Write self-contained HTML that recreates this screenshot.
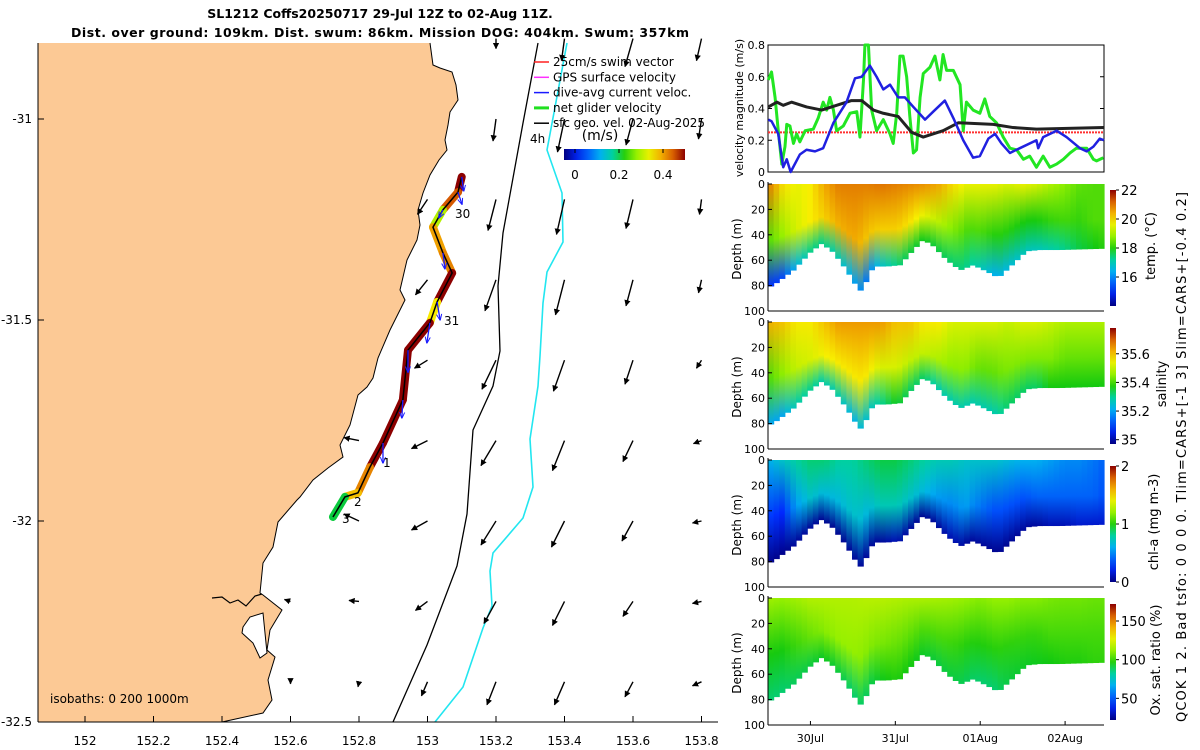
<!DOCTYPE html>
<html><head><meta charset="utf-8"><style>
body{margin:0;background:#fff}
svg{display:block;font-family:"DejaVu Sans","Liberation Sans",sans-serif}
</style></head><body>
<svg id="fig" width="1200" height="750" viewBox="0 0 1200 750">
<defs>
<marker id="ah" viewBox="0 0 10 10" refX="9" refY="5" markerWidth="4.5" markerHeight="4.5" orient="auto"><path d="M0,0L10,5L0,10z" fill="#000"/></marker>
<marker id="ahb" viewBox="0 0 10 10" refX="9" refY="5" markerWidth="5" markerHeight="5" orient="auto"><path d="M0,1L10,5L0,9" fill="none" stroke="#1a1aff" stroke-width="1.5"/></marker>
</defs>
<text x="380" y="18" text-anchor="middle" font-size="12.5" font-weight="bold">SL1212 Coffs20250717 29-Jul 12Z to 02-Aug 11Z.</text>
<text x="380" y="37" text-anchor="middle" font-size="12.5" font-weight="bold" textLength="618">Dist. over ground: 109km. Dist. swum: 86km. Mission DOG: 404km. Swum: 357km</text>
<g id="map"></g>
<g id="right"></g>
</svg>
<script>
// ---------- map data ----------
const mapLonTicks=[152,152.2,152.4,152.6,152.8,153,153.2,153.4,153.6,153.8];
const mapLatTicks=[-31,-31.5,-32,-32.5];
const trackLon=[153.100,153.089,153.045,153.016,153.045,153.072,153.028,153.007,152.943,152.928,152.870,152.832,152.797,152.759,152.724];
const trackLat=[-31.144,-31.182,-31.226,-31.269,-31.333,-31.383,-31.455,-31.507,-31.575,-31.699,-31.806,-31.866,-31.930,-31.940,-31.990];
const trackSpeed=[0.5,0.45,0.3,0.4,0.42,0.5,0.35,0.5,0.5,0.5,0.5,0.42,0.38,0.2,0.12];
const qLon=[153.2,153.4,153.6,153.8, 153.2,153.4,153.6,153.8, 153.0,153.2,153.4,153.6,153.8, 153.0,153.2,153.4,153.6,153.8, 153.0,153.2,153.4,153.6,153.8, 152.8,153.0,153.2,153.4,153.6,153.8, 152.8,153.0,153.2,153.4,153.6,153.8, 152.6,152.8,153.0,153.2,153.4,153.6,153.8, 152.6,152.8,153.0,153.2,153.4,153.6,153.8];
const qLat=[-30.8,-30.8,-30.8,-30.8, -31,-31,-31,-31, -31.2,-31.2,-31.2,-31.2,-31.2, -31.4,-31.4,-31.4,-31.4,-31.4, -31.6,-31.6,-31.6,-31.6,-31.6, -31.8,-31.8,-31.8,-31.8,-31.8,-31.8, -32,-32,-32,-32,-32,-32, -32.2,-32.2,-32.2,-32.2,-32.2,-32.2,-32.2, -32.4,-32.4,-32.4,-32.4,-32.4,-32.4,-32.4];
const qU=[0,-0.03,-0.08,-0.05, -0.03,-0.07,-0.07,-0.03, -0.10,-0.08,-0.08,-0.07,-0.02, -0.12,-0.11,-0.09,-0.07,-0.03, -0.13,-0.14,-0.11,-0.08,-0.05, -0.15,-0.16,-0.15,-0.12,-0.10,-0.08, -0.15,-0.16,-0.15,-0.13,-0.11,-0.09, -0.06,-0.10,-0.12,-0.12,-0.12,-0.10,-0.09, 0,-0.01,-0.06,-0.09,-0.10,-0.08,-0.09];
const qV=[-0.10,-0.22,-0.28,-0.22, -0.22,-0.33,-0.26,-0.20, -0.15,-0.31,-0.35,-0.29,-0.15, -0.15,-0.31,-0.35,-0.26,-0.13, -0.08,-0.29,-0.31,-0.24,-0.08, 0.03,-0.08,-0.25,-0.30,-0.21,-0.03, 0.07,-0.09,-0.24,-0.26,-0.20,-0.02, 0.02,0.01,-0.09,-0.22,-0.24,-0.15,-0.02, -0.02,-0.05,-0.14,-0.23,-0.23,-0.15,-0.04];
// ---------- velocity panel data (hours since 29-Jul 12Z) ----------
const gH=[0.1,1.0,2.0,2.9,3.9,4.8,5.3,6.2,7.2,8.1,9.0,10.5,12.8,14.2,15.6,16.6,17.5,18.5,19.4,21.3,23.2,25.1,26.0,27.0,27.4,28.4,29.3,30.7,32.6,34.5,35.4,36.4,37.3,38.2,39.2,40.1,41.1,42.0,43.0,43.9,45.8,47.2,48.6,49.5,50.5,52.4,54.3,55.2,56.1,58.0,59.9,61.3,62.7,64.6,66.5,68.4,70.3,72.2,74.0,75.9,77.8,79.7,81.6,83.5,85.4,87.2,90.1,92.0,92.9,94.8];
const gV=[0.58,0.63,0.47,0.26,0.05,0.16,0.30,0.29,0.18,0.24,0.19,0.26,0.27,0.34,0.44,0.39,0.47,0.39,0.26,0.29,0.37,0.38,0.22,0.58,0.80,0.80,0.39,0.26,0.33,0.24,0.18,0.37,0.73,0.73,0.60,0.35,0.12,0.14,0.47,0.62,0.66,0.73,0.58,0.74,0.64,0.64,0.55,0.26,0.44,0.39,0.37,0.46,0.35,0.31,0.22,0.15,0.14,0.08,0.10,0.03,0.10,0.03,0.05,0.08,0.12,0.15,0.15,0.08,0.07,0.09];
const bH=[0.1,1.0,2.9,4.3,5.3,6.4,9.0,10.9,13.3,15.6,18.5,22.2,24.6,26.5,28.8,30.7,32.6,34.5,36.8,38.7,41.1,44.4,46.7,50.0,52.4,55.2,58.0,59.9,62.3,64.2,66.0,68.4,71.2,75.9,76.4,77.8,81.6,84.4,88.2,90.1,92.0,93.8,95.0];
const bV=[0.33,0.32,0.24,0.03,0.08,0.0,0.11,0.14,0.13,0.15,0.31,0.44,0.59,0.60,0.67,0.60,0.52,0.55,0.47,0.47,0.41,0.33,0.38,0.45,0.34,0.20,0.09,0.10,0.21,0.24,0.18,0.12,0.15,0.20,0.15,0.22,0.26,0.22,0.15,0.13,0.16,0.21,0.20];
const kH=[0.1,2.5,4.3,6.7,10.9,15.2,19.4,23.6,26.5,29.8,32.6,36.8,40.6,43.9,49.5,53.8,63.7,69.3,75.9,95.0];
const kV=[0.41,0.44,0.42,0.44,0.41,0.39,0.42,0.45,0.45,0.39,0.37,0.35,0.25,0.22,0.26,0.31,0.30,0.28,0.27,0.28];
const swimRef=[0.25];
const velTicks=[0,0.2,0.4,0.6,0.8];
// ---------- section data ----------
const knotH=[0,4,8,12,16,20,24,28,32,36,40,44,48,52,56,60,64,68,72,76,80,84,88,92,95];
const botH=[0,2.4,7.2,11.9,15.2,18.5,22.2,25.1,26.5,27.9,29.8,33.5,37.3,41.1,43.9,46.7,50.5,54.3,58.0,61.8,65.1,69.3,73.1,76.9,82.5,95];
const botD=[82,78,68,54,47,54,68,81,85,76,65,65,64,52,44,49,60,68,64,69,74,63,53,52,52,51];
const tSurf=[21,20,19.6,19.8,20.5,20.9,20.9,20.9,21,20.9,20.8,20.7,20.5,20,19.6,19.6,19.6,19.4,19.6,19.4,19,18.7,18.4,18.3,18.3];
const tMid=[18.3,18.8,19.4,19.8,20.1,20.4,20.5,20.2,20.1,20.1,19.9,19.6,19.2,18.7,18.3,18.3,18,18,17.9,17.9,18.1,18.2,18.1,18.3,18.3];
const tBot=[15,15.3,16.5,17.3,17.3,17,16.3,15.8,16.8,17.3,17.6,17.8,17.6,17.4,17.3,17,16.4,16.6,16.9,16.9,17.1,17.3,17.6,17.8,18];
const sSurf=[35.62,35.6,35.56,35.56,35.6,35.64,35.64,35.64,35.64,35.6,35.6,35.56,35.56,35.52,35.52,35.52,35.52,35.5,35.52,35.52,35.5,35.48,35.48,35.48,35.48];
const sMid=[35.4,35.45,35.5,35.52,35.55,35.56,35.56,35.56,35.52,35.52,35.5,35.5,35.48,35.45,35.45,35.42,35.42,35.44,35.44,35.44,35.44,35.42,35.42,35.42,35.42];
const sBot=[35.2,35.2,35.28,35.3,35.28,35.28,35.22,35.25,35.3,35.35,35.32,35.32,35.28,35.28,35.28,35.28,35.28,35.32,35.32,35.32,35.36,35.36,35.36,35.36,35.36];
const cSurf=[0.6,0.7,0.8,0.85,0.85,0.8,0.8,0.85,0.9,0.9,0.85,0.8,0.75,0.75,0.7,0.7,0.7,0.65,0.6,0.6,0.55,0.5,0.5,0.45,0.4];
const cMid=[0.3,0.25,0.55,0.7,0.65,0.65,0.7,0.65,0.75,0.75,0.7,0.65,0.55,0.5,0.55,0.45,0.35,0.35,0.35,0.4,0.4,0.4,0.4,0.4,0.35];
const cBot=[0.02,0.02,0.05,0.05,0.03,0.03,0.05,0.05,0.05,0.1,0.05,0.03,0.05,0.1,0.05,0.05,0.03,0.03,0.05,0.05,0.1,0.1,0.15,0.15,0.15];
const oSurf=[114,112,114,117,117,117,117,118,118,117,116,116,115,114,112,110,112,112,110,110,108,107,107,106,106];
const oMid=[95,95,100,106,110,112,112,110,108,106,104,102,102,100,97,96,97,98,99,99,101,101,101,101,101];
const oBot=[86,86,88,90,93,90,86,88,93,96,94,92,90,90,88,86,86,90,92,93,94,96,96,98,98];
const depthTicks=[0,20,40,60,80,100];
const dayTicks=[12,36,60,84];
const dayLabels=["30Jul","31Jul","01Aug","02Aug"];

const NS="http://www.w3.org/2000/svg";
function E(tag,attrs,parent,txt){const e=document.createElementNS(NS,tag);for(const k in attrs){if(attrs[k]!==undefined)e.setAttribute(k,attrs[k]);}if(txt!==undefined)e.textContent=txt;parent.appendChild(e);return e;}
const stops=[[0,[0,0,130]],[0.125,[0,40,255]],[0.3,[0,176,240]],[0.4,[0,208,160]],[0.48,[16,200,16]],[0.6,[150,240,0]],[0.72,[248,240,0]],[0.82,[240,160,0]],[0.92,[210,80,0]],[1,[140,0,0]]];
function cmap(t){t=Math.max(0,Math.min(1,t));for(let i=1;i<stops.length;i++){if(t<=stops[i][0]){const a=stops[i-1],b=stops[i],f=(t-a[0])/(b[0]-a[0]);const c=a[1].map((v,j)=>Math.round(v+(b[1][j]-v)*f));return `rgb(${c[0]},${c[1]},${c[2]})`;}}return 'rgb(140,0,0)';}
function interp(xs,ys,x){if(x<=xs[0])return ys[0];for(let i=1;i<xs.length;i++){if(x<=xs[i]){const f=(x-xs[i-1])/(xs[i]-xs[i-1]);return ys[i-1]+(ys[i]-ys[i-1])*f;}}return ys[ys.length-1];}
const defs=document.querySelector('defs');

// ---------- map ----------
const map=document.getElementById('map');
const mx=lon=>85+(lon-152)*342.5, my=lat=>119+(-31-lat)*402;
const coast=[[430,43],[433,65],[440,68],[452,72],[456,85],[458,100],[450,112],[448,125],[445,140],[447,150],[439,160],[430,175],[423,193],[418,210],[420,225],[417,240],[407,260],[400,290],[405,300],[400,310],[390,330],[378,358],[373,378],[367,387],[358,395],[350,425],[340,445],[343,457],[328,468],[313,480],[300,497],[297,500],[278,522],[273,547],[263,563],[260,593],[263,595],[282,610],[270,630],[267,650],[275,657],[268,680],[272,700],[263,713],[222,722],[38,722],[38,43]];
const land=E('path',{d:'M'+coast.map(p=>p.join(',')).join('L')+'Z',fill:'#fcc995',stroke:'none'},map);

const cl=E('polyline',{points:coast.slice(0,45).map(p=>p.join(',')).join(' '),fill:'none',stroke:'#000','stroke-width':1},map);

const lake=E('path',{d:'M243,627L250,617L263,613L265,633L267,653L260,658L253,643L242,633Z',fill:'#fff',stroke:'#000','stroke-width':1},map);

E('path',{d:'M212,598L222,597L230,603L238,600L246,606L255,596L262,594',fill:'none',stroke:'#000','stroke-width':1.2},map);
const iso200=[[538,43],[523,123],[503,233],[498,286],[500,351],[493,386],[473,430],[467,514],[457,566],[427,645],[393,722]];
const iso1000=[[567,43],[547,150],[562,193],[563,242],[547,272],[543,303],[540,356],[538,386],[530,439],[533,487],[523,518],[493,553],[490,571],[492,606],[483,628],[463,687],[435,722]];
const i2=E('polyline',{points:iso200.map(p=>p.join(',')).join(' '),fill:'none',stroke:'#000','stroke-width':1.3},map);

const i1=E('polyline',{points:iso1000.map(p=>p.join(',')).join(' '),fill:'none',stroke:'#22e6f0','stroke-width':1.6},map);

for(let i=0;i<qLon.length;i++){
  const x=mx(qLon[i]),y=my(qLat[i]);
  const l=E('line',{x1:x,y1:y,x2:x+qU[i]*100,y2:y-qV[i]*100,stroke:'#000','stroke-width':1.4,'marker-end':'url(#ah)'},map);
  
  
}
for(let i=0;i<trackLon.length-1;i++){
  const s=E('line',{x1:mx(trackLon[i]),y1:my(trackLat[i]),x2:mx(trackLon[i+1]),y2:my(trackLat[i+1]),stroke:cmap((trackSpeed[i]+0.05)/0.55),'stroke-width':8,'stroke-linecap':'round'},map);
  
  
}
const tl=E('polyline',{points:trackLon.map((v,i)=>mx(v)+','+my(trackLat[i])).join(' '),fill:'none',stroke:'#000','stroke-width':1.5},map);

[[0,2,14],[2,-4,8],[4,2,16],[6,3,18],[7,-3,20],[8,0,22],[9,-1,18],[10,0,20],[1,4,12]].forEach(a=>{
  const x=mx(trackLon[a[0]]),y=my(trackLat[a[0]]);
  const l=E('line',{x1:x,y1:y,x2:x+a[1],y2:y+a[2],stroke:'#1a1aff','stroke-width':1.3,'marker-end':'url(#ahb)'},map);
  
  
});
[["30",455,218],["31",444,325],["1",383,467],["2",354,506],["3",342,523]].forEach(d=>{const t=E('text',{x:d[1],y:d[2],'font-size':12},map,d[0]);});
E('line',{x1:38,y1:43,x2:38,y2:722,stroke:'#000'},map);
E('line',{x1:38,y1:722,x2:718,y2:722,stroke:'#000'},map);
mapLonTicks.forEach(v=>{const x=mx(v);E('line',{x1:x,y1:722,x2:x,y2:716,stroke:'#000'},map);const t=E('text',{x:x,y:745,'font-size':12,'text-anchor':'middle'},map,String(v));});
mapLatTicks.forEach(v=>{const y=my(v);E('line',{x1:38,y1:y,x2:44,y2:y,stroke:'#000'},map);const t=E('text',{x:32,y:y+4,'font-size':12,'text-anchor':'end'},map,String(v));});
E('text',{x:50,y:703,'font-size':12,},map,'isobaths: 0   200  1000m');
const leg=[["25cm/s swim vector","#ff2020"],["GPS surface velocity","#ff30ff"],["dive-avg current veloc.","#1a1aff"],["net glider velocity","#20e020"],["sfc geo. vel. 02-Aug-2025","#000"]];
leg.forEach((d,i)=>{const y=66+i*15.3;const g=E('g',{},map);E('line',{x1:549,y1:y-4,x2:534,y2:y-4,stroke:d[1],'stroke-width':i==3?3:1.5},g);E('text',{x:553,y:y,'font-size':12,textLength:i==4?152:undefined},g,d[0]);});
E('text',{x:530,y:143,'font-size':12},map,'4h');
E('text',{x:600,y:140,'font-size':14,'text-anchor':'middle'},map,'(m/s)');
const sg=E('linearGradient',{id:'spd',x1:0,x2:1,y1:0,y2:0},defs);
for(let i=0;i<=10;i++)E('stop',{offset:i/10,'stop-color':cmap(i/10)},sg);
E('rect',{x:564,y:149,width:121,height:11,fill:'url(#spd)',},map);
[[0,"0"],[0.2,"0.2"],[0.4,"0.4"]].forEach(d=>{const x=564+(d[0]+0.05)/0.55*121;E('line',{x1:x,y1:149,x2:x,y2:153,stroke:'#000'},map);E('text',{x:x,y:179,'font-size':12,'text-anchor':'middle'},map,d[1]);});

// ---------- right panels ----------
const R=document.getElementById('right');
const X0=768,X1=1104;const tx=h=>X0+h*(X1-X0)/95;
const vy=v=>172-v*158.75;
const vp=E('g',{},R);
E('rect',{x:X0,y:45,width:X1-X0,height:127,fill:'#fff',stroke:'#000'},vp);
velTicks.forEach(v=>{E('line',{x1:X0,y1:vy(v),x2:X0+4,y2:vy(v),stroke:'#000'},vp);E('line',{x1:X1,y1:vy(v),x2:X1-4,y2:vy(v),stroke:'#000'},vp);E('text',{x:X0-3,y:vy(v)+4,'font-size':11,'text-anchor':'end'},vp,String(v));});
E('line',{x1:X0,y1:vy(swimRef[0]),x2:X1,y2:vy(swimRef[0]),stroke:'#ff3030','stroke-width':2,'stroke-dasharray':'2,1',},vp);
const pl=(H,V,c,w,n)=>{const p=E('polyline',{points:H.map((h,i)=>tx(h)+','+vy(V[i])).join(' '),fill:'none',stroke:c,'stroke-width':w,'stroke-linejoin':'round'},vp);};
pl(gH,gV,'#22e622',3,'net-glider-velocity-line');
pl(kH,kV,'#222',3,'sfc-geo-velocity-line');
pl(bH,bV,'#2020e0',2.5,'dive-avg-current-line');
E('text',{transform:'translate(743,108) rotate(-90)','font-size':11,'text-anchor':'middle',},R,'velocity magnitude (m/s)');
const panels=[
 {y0:184,surf:tSurf,mid:tMid,bot:tBot,lo:14,hi:22,ticks:[16,18,20,22],lab:'temp. (°C)',n:'temperature',lx:1155},
 {y0:322,surf:sSurf,mid:sMid,bot:sBot,lo:34.97,hi:35.78,ticks:[35,35.2,35.4,35.6],lab:'salinity',n:'salinity',lx:1166},
 {y0:460,surf:cSurf,mid:cMid,bot:cBot,lo:0,hi:2,ticks:[0,1,2],lab:'chl-a (mg m-3)',n:'chlorophyll',lx:1158},
 {y0:598,surf:oSurf,mid:oMid,bot:oBot,lo:22,hi:172,ticks:[50,100,150],lab:'Ox. sat. ratio (%)',n:'oxygen',lx:1160}];
const NSTR=60;
panels.forEach((P,pi)=>{
  const g=E('g',{},R);
  const dy=d=>P.y0+d*1.27;
  const nrm=v=>(v-P.lo)/(P.hi-P.lo);
  for(let s=0;s<NSTR;s++){
    const h0=s*95/NSTR,h1=(s+1)*95/NSTR,hm=(h0+h1)/2;
    const bd=interp(botH,botD,hm);
    const id='gr'+pi+'_'+s;
    const lg=E('linearGradient',{id:id,x1:0,x2:0,y1:0,y2:1},defs);
    E('stop',{offset:0,'stop-color':cmap(nrm(interp(knotH,P.surf,hm)))},lg);
    E('stop',{offset:0.55,'stop-color':cmap(nrm(interp(knotH,P.mid,hm)))},lg);
    E('stop',{offset:1,'stop-color':cmap(nrm(interp(knotH,P.bot,hm)))},lg);
    const r=E('rect',{x:tx(h0),y:dy(0),width:tx(h1)-tx(h0)+0.6,height:bd*1.27,fill:'url(#'+id+')'},g);
    
    
  }
  E('line',{x1:X0,y1:P.y0-2,x2:X0,y2:dy(100),stroke:'#000'},g);
  E('line',{x1:X0,y1:dy(100),x2:X1,y2:dy(100),stroke:'#000'},g);
  depthTicks.forEach(d=>{E('line',{x1:X0,y1:dy(d),x2:X0+4,y2:dy(d),stroke:'#000'},g);E('text',{x:X0-3,y:dy(d)+4,'font-size':11,'text-anchor':'end'},g,String(d));});
  E('text',{transform:`translate(741,${P.y0+65}) rotate(-90)`,'font-size':12,'text-anchor':'middle'},g,'Depth (m)');
  const cbTop=P.y0+6,cbBot=P.y0+122;
  const cg=E('linearGradient',{id:'cb'+pi,x1:0,x2:0,y1:1,y2:0},defs);
  for(let i=0;i<=10;i++)E('stop',{offset:i/10,'stop-color':cmap(i/10)},cg);
  const cb=E('rect',{x:1110,y:cbTop,width:6,height:cbBot-cbTop,fill:'url(#cb'+pi+')'},g);
  
  P.ticks.forEach(v=>{const y=cbBot-nrm(v)*(cbBot-cbTop);E('line',{x1:1116,y1:y,x2:1119,y2:y,stroke:'#000'},g);E('text',{x:1121,y:y+5,'font-size':13},g,String(v));});
  E('text',{transform:`translate(${P.lx},${P.y0+62}) rotate(-90)`,'font-size':13,'text-anchor':'middle'},g,P.lab);
});
dayTicks.forEach((h,i)=>{const x=tx(h);E('line',{x1:x,y1:725,x2:x,y2:721,stroke:'#000'},R);const t=E('text',{x:x,y:742,'font-size':11,'text-anchor':'middle'},R,dayLabels[i]);});
E('text',{transform:'translate(1186,457) rotate(-90)','font-size':13,'text-anchor':'middle',textLength:530,},R,'QCOK 1  2. Bad tsfo: 0  0  0  0. Tlim=CARS+[-1 3] Slim=CARS+[-0.4 0.2]');
</script>
</body></html>
